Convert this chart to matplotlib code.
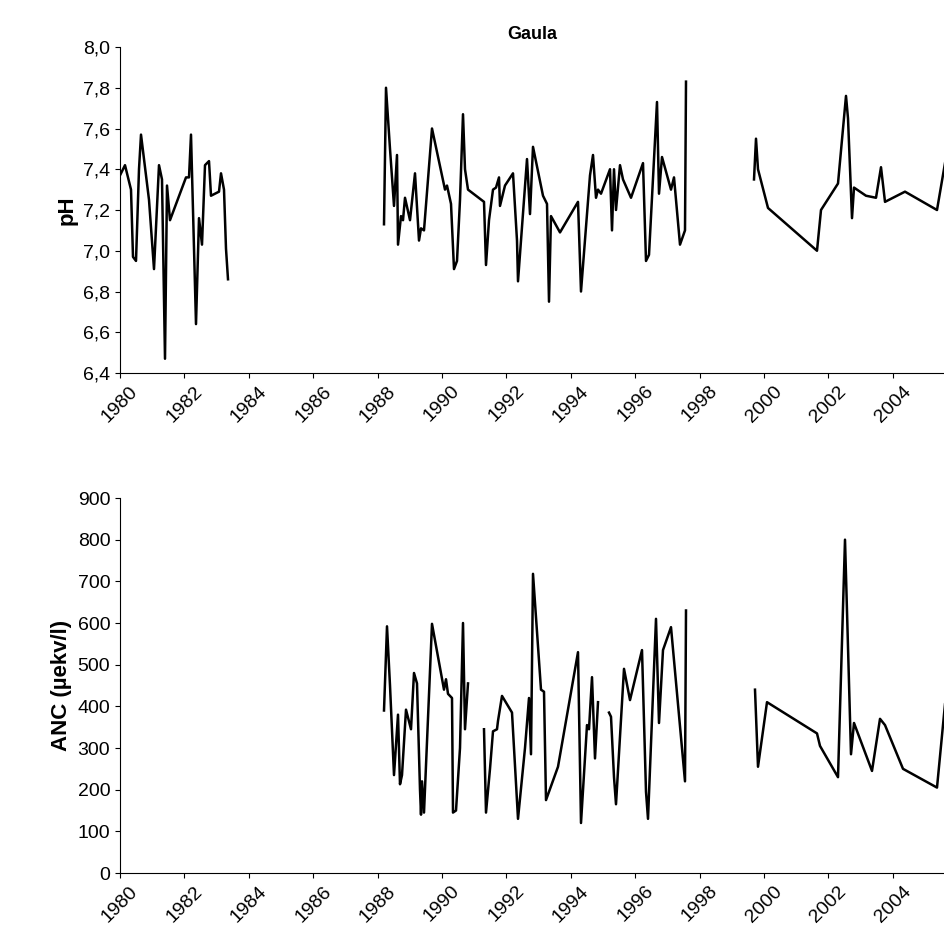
import numpy as np
import matplotlib.pyplot as plt

nan = np.nan
# pixel-column positions, converted to years below
ph_px = [120, 125, 131, 133, 136, 139, 141, 149, 154, 159, 162, 165, 167, 170, 186, 189, 191, 196, 199, 202, 205, 209, 211, 219, 221, 224, 226, 228,
         300,
         384, 386, 390, 394, 397, 398, 401, 403, 405, 410, 415, 419, 421, 424, 432, 445, 447, 451, 454, 457, 460, 463, 465, 468, 484, 486, 489, 493, 496,
         499, 500, 505, 513, 517, 518, 527, 530, 533, 543, 547, 549, 551, 560, 578, 581, 590, 593, 596, 598, 601, 610, 612, 614, 616, 620, 623, 631, 643,
         646, 649, 657, 659, 662, 671, 674, 680, 685, 686,
         720,
         754, 756, 758, 768, 817, 821, 838, 846, 848, 852, 854, 866, 876, 881, 885, 905, 937, 945]
ph_val = [7.37, 7.42, 7.30, 6.97, 6.95, 7.40, 7.57, 7.25, 6.91, 7.42, 7.35, 6.47, 7.32, 7.15, 7.36, 7.36, 7.57, 6.64, 7.16, 7.03, 7.42, 7.44, 7.27, 7.29, 7.38, 7.30, 7.01, 6.86,
          nan,
          7.13, 7.80, 7.50, 7.22, 7.47, 7.03, 7.17, 7.15, 7.26, 7.15, 7.38, 7.05, 7.11, 7.10, 7.60, 7.30, 7.32, 7.23, 6.91, 6.95, 7.25, 7.67, 7.40, 7.30, 7.24, 6.93, 7.15, 7.30, 7.31,
          7.36, 7.22, 7.32, 7.38, 7.05, 6.85, 7.45, 7.18, 7.51, 7.27, 7.23, 6.75, 7.17, 7.09, 7.24, 6.80, 7.37, 7.47, 7.26, 7.30, 7.28, 7.40, 7.10, 7.40, 7.20, 7.42, 7.35, 7.26, 7.43,
          6.95, 6.98, 7.73, 7.28, 7.46, 7.30, 7.36, 7.03, 7.10, 7.83,
          nan,
          7.35, 7.55, 7.40, 7.21, 7.00, 7.20, 7.33, 7.76, 7.65, 7.16, 7.31, 7.27, 7.26, 7.41, 7.24, 7.29, 7.20, 7.43]

anc_px = [384, 387, 390, 394, 398, 400, 402, 406, 411, 414, 417, 420, 421, 422, 424, 432, 444, 446, 448, 452, 453, 456, 460, 463, 465, 468,
          476,
          484, 486, 490, 493, 497, 498, 502, 512, 518, 525, 529, 531, 533, 541, 544, 546, 558, 578, 581, 587, 589, 592, 595, 598,
          604,
          609, 611, 614, 616, 624, 630, 642, 646, 648, 656, 659, 663, 671, 685, 686,
          720,
          755, 758, 767, 817, 820, 838, 845, 851, 854, 872, 880, 885, 903, 937, 945]
anc_val = [390, 592, 450, 235, 380, 213, 235, 392, 345, 480, 455, 200, 140, 220, 145, 598, 440, 465, 430, 420, 145, 150, 300, 600, 345, 455,
           nan,
           345, 145, 250, 340, 345, 365, 425, 385, 130, 300, 420, 285, 718, 440, 435, 175, 255, 530, 120, 355, 345, 470, 275, 410,
           nan,
           385, 375, 230, 165, 490, 415, 535, 195, 130, 610, 360, 535, 590, 220, 630,
           nan,
           440, 255, 410, 335, 305, 230, 800, 285, 360, 245, 370, 355, 250, 205, 405]

ph_year = 1980 + (np.array(ph_px) - 120) / 32.2
anc_year = 1980 + (np.array(anc_px) - 120) / 32.2

plt.rcParams['font.family'] = ['Liberation Sans', 'DejaVu Sans']
fig = plt.figure(figsize=(9.45, 9.46), dpi=100)
ax1 = fig.add_axes([120/945, 1-373/946, 825/945, 326/946])
ax2 = fig.add_axes([120/945, 1-873/946, 825/945, 375/946])

xmax = 1980 + 825 / 32.2
ticks = list(range(1980, 2005, 2))

def style(ax):
    ax.set_xlim(1980, xmax)
    ax.set_xticks(ticks)
    ax.set_xticklabels([str(t) for t in ticks], rotation=45, fontsize=14)
    ax.tick_params(axis='y', labelsize=14)
    for s in ['top', 'right']:
        ax.spines[s].set_visible(False)

ax1.plot(ph_year, ph_val, color='black', lw=1.8)
ax1.set_ylim(6.4, 8.0)
ax1.set_yticks(np.arange(6.4, 8.01, 0.2))
ax1.set_yticklabels([f"{v:.1f}".replace('.', ',') for v in np.arange(6.4, 8.01, 0.2)])
ax1.set_ylabel('pH', fontsize=16, fontweight='bold')
ax1.set_title('Gaula', fontsize=13, fontweight='bold')
style(ax1)

ax2.plot(anc_year, anc_val, color='black', lw=1.8)
ax2.set_ylim(0, 900)
ax2.set_yticks(range(0, 901, 100))
ax2.set_ylabel('ANC (µekv/l)', fontsize=16, fontweight='bold')
style(ax2)

fig.savefig('out.png', dpi=100)
